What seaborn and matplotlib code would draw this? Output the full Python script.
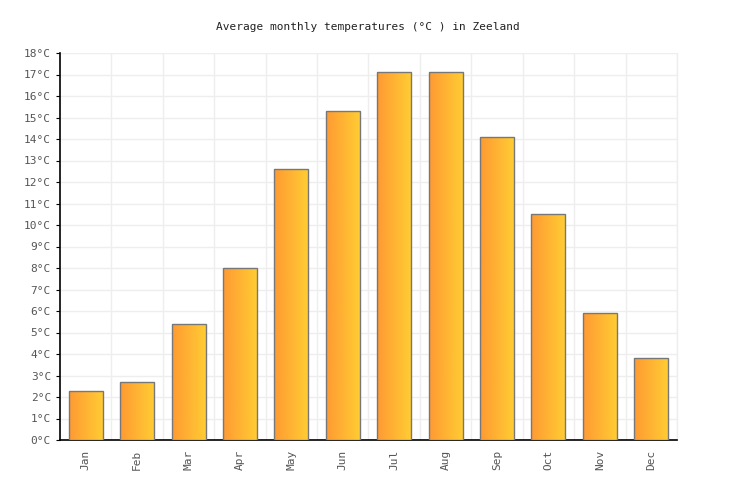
import numpy as np
import pandas as pd
import matplotlib
matplotlib.use("Agg")
import matplotlib.pyplot as plt
import seaborn as sns
from matplotlib.colors import LinearSegmentedColormap

# Datos
months = ["Jan", "Feb", "Mar", "Apr", "May", "Jun",
          "Jul", "Aug", "Sep", "Oct", "Nov", "Dec"]
temps = [2.3, 2.7, 5.4, 8.0, 12.6, 15.3, 17.1, 17.1, 14.1, 10.5, 5.9, 3.8]
yticks = list(range(0, 19))

df = pd.DataFrame({"Month": months, "Temp": temps})

sns.set_style("white")
plt.rcParams["font.family"] = ["DejaVu Sans Mono", "DejaVu Sans"]

fig = plt.figure(figsize=(7.36, 5), dpi=100)
ax = fig.add_axes([60 / 736, 60 / 500, 617 / 736, 387 / 500])

sns.barplot(data=df, x="Month", y="Temp", ax=ax, width=0.66,
            color="#ffaa33", edgecolor="#777777", linewidth=1, zorder=3)

# Degradado horizontal dentro de cada barra
cmap = LinearSegmentedColormap.from_list("grad", ["#ff9a33", "#ffcc33"])
grad = np.linspace(0, 1, 64).reshape(1, -1)
for p in ax.patches:
    x0, y0 = p.get_x(), p.get_y()
    w, h = p.get_width(), p.get_height()
    im = ax.imshow(grad, cmap=cmap, aspect="auto", zorder=3.5,
                   extent=[x0, x0 + w, y0, y0 + h], interpolation="bicubic")
    im.set_clip_path(p)
    p.set_facecolor("none")
    p.set_zorder(4)

ax.set_xlim(-0.5, 11.5)
ax.set_ylim(0, 18)
ax.set_yticks(yticks)
ax.set_yticklabels([f"{t}°C" for t in yticks])
ax.set_xticks(range(len(months)))
ax.set_xticklabels(months, rotation=90)

# Rejilla
for y in yticks[1:]:
    ax.axhline(y, color="#eeeeee", linewidth=1, zorder=1)
for x in np.arange(0.5, 12, 1):
    ax.axvline(x, color="#eeeeee", linewidth=1, zorder=1)

ax.spines["top"].set_visible(False)
ax.spines["right"].set_color("#eeeeee")
ax.spines["right"].set_linewidth(1)
ax.spines["left"].set_color("black")
ax.spines["bottom"].set_color("black")
ax.spines["left"].set_linewidth(1.2)
ax.spines["bottom"].set_linewidth(1.2)

ax.tick_params(axis="both", labelsize=8, labelcolor="#555555", length=3,
               color="black", left=True, bottom=False)
ax.tick_params(axis="x", pad=4)
ax.set_xlabel("")
ax.set_ylabel("")

fig.suptitle("Average monthly temperatures (°C ) in Zeeland", y=0.955,
             fontsize=8, color="#222222")

fig.savefig("out.png", dpi=100)
